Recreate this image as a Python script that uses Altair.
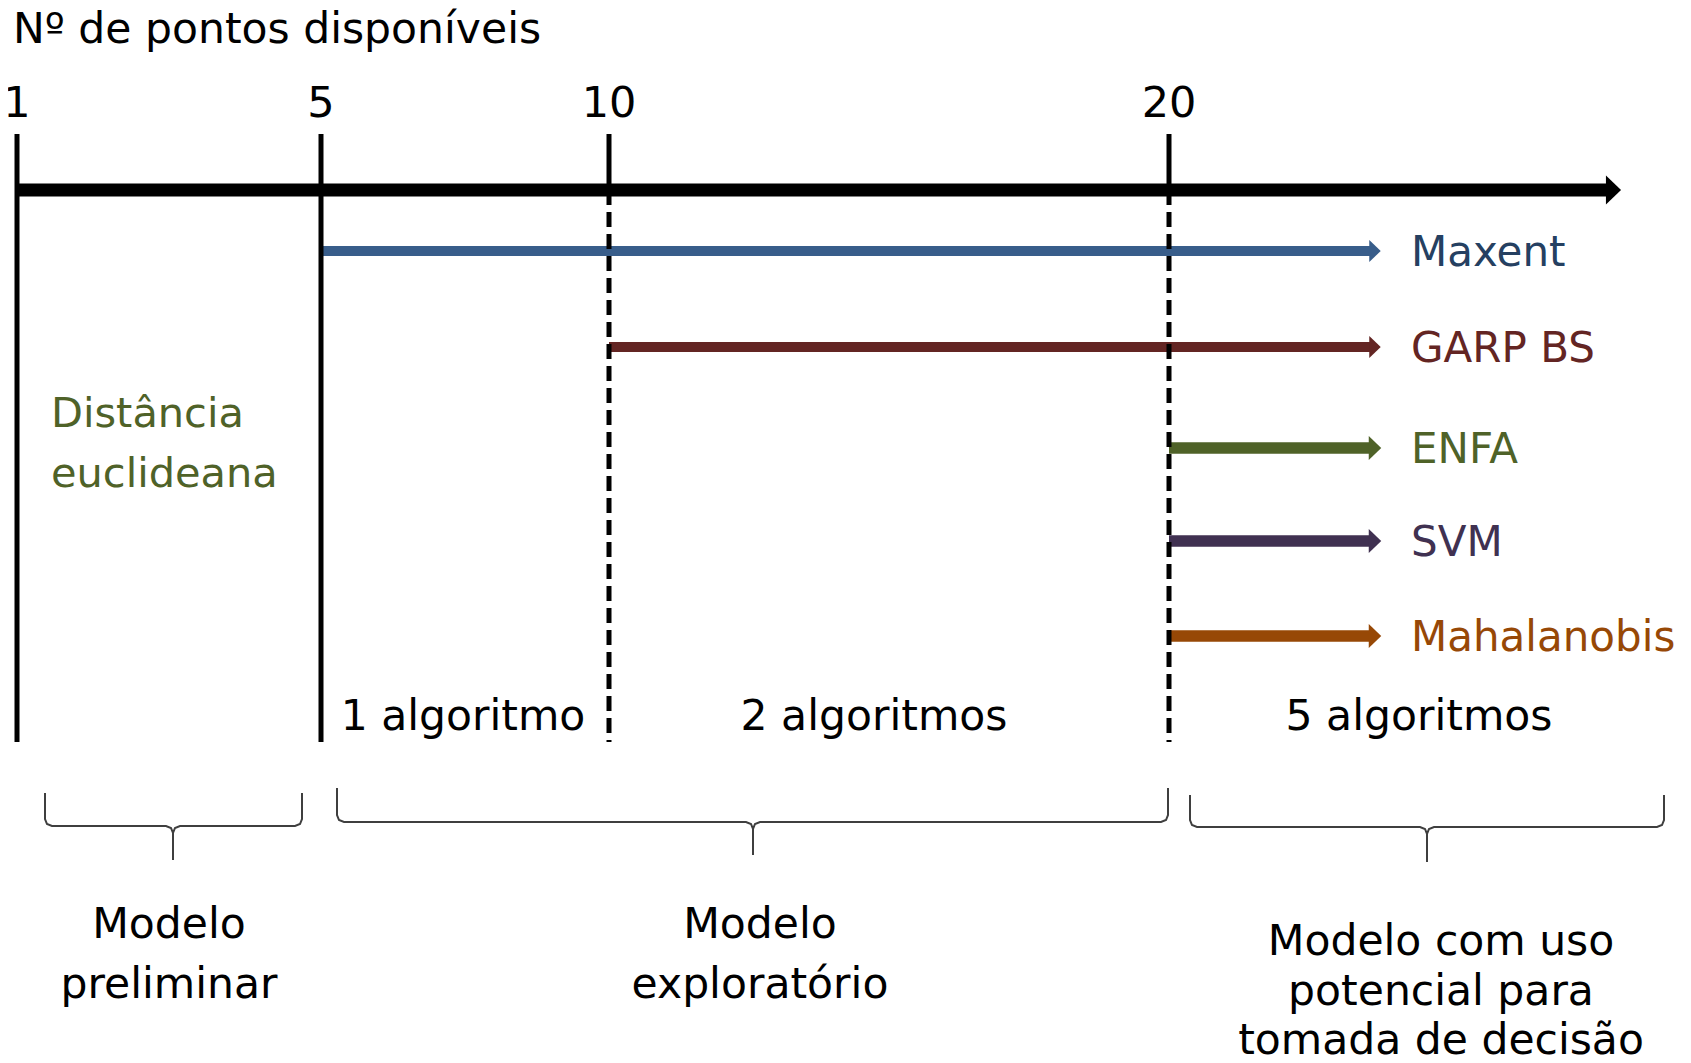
import altair as alt
import pandas as pd

# ---------------- data ----------------
axis_title = "Nº de pontos disponíveis"

thr_values = [1, 5, 10, 20]            # number of available points
thr_x = [17, 321, 609, 1169]           # where each threshold sits on the diagram
thr_dashed = [False, False, True, True]

algos = ["Maxent", "GARP BS", "ENFA", "SVM", "Mahalanobis"]
algo_start = [5, 10, 20, 20, 20]       # minimum points for each algorithm
algo_y = [251, 347, 448, 541, 636]
algo_line_color = ["#385D8A", "#632523", "#4F6228", "#403151", "#974806"]
algo_text_color = ["#254061", "#632523", "#4F6228", "#403151", "#974806"]

left_label = ["Distância", "euclideana"]
left_label_base = [427, 487]

segment_labels = ["1 algoritmo", "2 algoritmos", "5 algoritmos"]
segment_x = [463, 874, 1419]

brace_x0 = [45, 337, 1190]
brace_x1 = [302, 1168, 1664]
brace_xc = [173, 753, 1427]
brace_top = [793, 788, 795]
brace_mid = [826, 822, 827]
brace_tip = [860, 855, 862]

phase_lines = [["Modelo", "preliminar"],
               ["Modelo", "exploratório"],
               ["Modelo com uso", "potencial para", "tomada de decisão"]]
phase_x = [169, 760, 1441]
phase_base = [[938, 998], [938, 998], [955, 1005, 1054]]

# ---------------- layout ----------------
FONT = "DejaVu Sans"
W, H = 1675, 1047
AXIS_Y = 190
LINE_TOP, LINE_BOTTOM = 134, 742
AXIS_TIP = 1621
ARROW_TIP = 1381

XS = alt.Scale(domain=[8, 8 + W], nice=False, zero=False)
YS = alt.Scale(domain=[8 + H, 8], nice=False, zero=False)
X = alt.X("x:Q", scale=XS, axis=None)
Y = alt.Y("y:Q", scale=YS, axis=None)

# vertical threshold lines
solid_rows, dashed_rows = [], []
for v, xx, d in zip(thr_values, thr_x, thr_dashed):
    solid_rows.append({"x": xx, "y": LINE_TOP, "y2": AXIS_Y})
    (dashed_rows if d else solid_rows).append({"x": xx, "y": AXIS_Y, "y2": LINE_BOTTOM})

solid = alt.Chart(pd.DataFrame(solid_rows)).mark_rule(
    color="black", strokeWidth=5, strokeCap="butt"
).encode(x=X, y=Y, y2="y2:Q")
dashed = alt.Chart(pd.DataFrame(dashed_rows)).mark_rule(
    color="black", strokeWidth=5, strokeCap="butt", strokeDash=[15, 7]
).encode(x=X, y=Y, y2="y2:Q")

# main axis with arrowhead
axis_df = pd.DataFrame({"x": [thr_x[0]], "x2": [AXIS_TIP - 13], "y": [AXIS_Y]})
main_axis = alt.Chart(axis_df).mark_rule(color="black", strokeWidth=13, strokeCap="butt").encode(
    x=X, x2="x2:Q", y=Y)
head_df = pd.DataFrame({"x": [AXIS_TIP - 7.5], "y": [AXIS_Y]})
main_head = alt.Chart(head_df).mark_point(
    shape="M -0.52 -1 L 0.52 0 L -0.52 1 Z", filled=True, size=841, opacity=1,
    strokeWidth=0, color="black"
).encode(x=X, y=Y)

# tick labels
tick_df = pd.DataFrame({"x": thr_x, "y": [117] * 4, "t": [str(v) for v in thr_values]})
ticks = alt.Chart(tick_df).mark_text(font=FONT, fontSize=43, align="center",
                                     baseline="alphabetic", color="black").encode(x=X, y=Y, text="t:N")

title_df = pd.DataFrame({"x": [13], "y": [43], "t": [axis_title]})
title = alt.Chart(title_df).mark_text(font=FONT, fontSize=42.5, align="left",
                                      baseline="alphabetic", color="black").encode(x=X, y=Y, text="t:N")

# algorithm arrows
start_x = [thr_x[thr_values.index(s)] for s in algo_start]
algo_df = pd.DataFrame({
    "algo": algos, "start": algo_start, "x": start_x, "x2": [ARROW_TIP - 10] * len(algos),
    "y": algo_y, "lc": algo_line_color, "tc": algo_text_color,
    "hx": [ARROW_TIP - 6] * len(algos), "lx": [1411] * len(algos),
    "ly": [v + 15 for v in algo_y],
})
algo_lines = alt.Chart(algo_df).mark_rule(strokeCap="butt").encode(
    x=X, x2="x2:Q", y=Y,
    color=alt.Color("lc:N", scale=None),
    strokeWidth=alt.condition("datum.start < 20", alt.value(10), alt.value(11.5)),
)
algo_heads = alt.Chart(algo_df).mark_point(
    shape="M -0.52 -1 L 0.52 0 L -0.52 1 Z", filled=True, opacity=1, strokeWidth=0
).encode(
    x=alt.X("hx:Q", scale=XS, axis=None),
    y=Y,
    color=alt.Color("lc:N", scale=None),
    size=alt.condition("datum.start < 20", alt.value(484), alt.value(576)),
)
algo_labels = alt.Chart(algo_df).mark_text(font=FONT, fontSize=42, align="left",
                                           baseline="alphabetic").encode(
    x=alt.X("lx:Q", scale=XS, axis=None),
    y=alt.Y("ly:Q", scale=YS, axis=None),
    text="algo:N", color=alt.Color("tc:N", scale=None))

# left green label
left_df = pd.DataFrame({"x": [51] * 2, "y": left_label_base, "t": left_label})
left_text = alt.Chart(left_df).mark_text(font=FONT, fontSize=41.5, align="left",
                                         baseline="alphabetic", color="#4F6228").encode(
    x=X, y=Y, text="t:N")

# segment labels
seg_df = pd.DataFrame({"x": segment_x, "y": [730] * 3, "t": segment_labels})
seg_text = alt.Chart(seg_df).mark_text(font=FONT, fontSize=42.5, align="center",
                                       baseline="alphabetic", color="black").encode(
    x=X, y=Y, text="t:N")

# braces
brace_rows = []
for b, (x0, x1, xc, top, mid, tip) in enumerate(
        zip(brace_x0, brace_x1, brace_xc, brace_top, brace_mid, brace_tip)):
    pts = [(x0, top), (x0, mid - 7), (x0 + 2, mid - 2), (x0 + 7, mid),
           (xc - 7, mid), (xc - 2, mid + 2), (xc, mid + 7), (xc, tip),
           (xc, mid + 7), (xc + 2, mid + 2), (xc + 7, mid),
           (x1 - 7, mid), (x1 - 2, mid - 2), (x1, mid - 7), (x1, top)]
    for i, (px, py) in enumerate(pts):
        brace_rows.append({"b": b, "o": i, "x": px, "y": py})
braces = alt.Chart(pd.DataFrame(brace_rows)).mark_line(
    color="#3F3F3F", strokeWidth=2, interpolate="linear"
).encode(x=X, y=Y, detail="b:N", order="o:Q")

# phase labels
ph_rows = []
for lines, px, bases in zip(phase_lines, phase_x, phase_base):
    for ln, by in zip(lines, bases):
        ph_rows.append({"x": px, "y": by, "t": ln})
ph_text = alt.Chart(pd.DataFrame(ph_rows)).mark_text(font=FONT, fontSize=42.5, align="center",
                                                     baseline="alphabetic", color="black").encode(
    x=X, y=Y, text="t:N")

chart = alt.layer(
    algo_lines, algo_heads, solid, dashed, main_axis, main_head,
    ticks, title, algo_labels, left_text, seg_text, braces, ph_text
).properties(
    width=W, height=H, padding=0, autosize=alt.AutoSizeParams(type="none"),
    background="white"
).configure_view(stroke=None)

chart.save("out.html", embed_options={"renderer": "svg", "actions": False})
